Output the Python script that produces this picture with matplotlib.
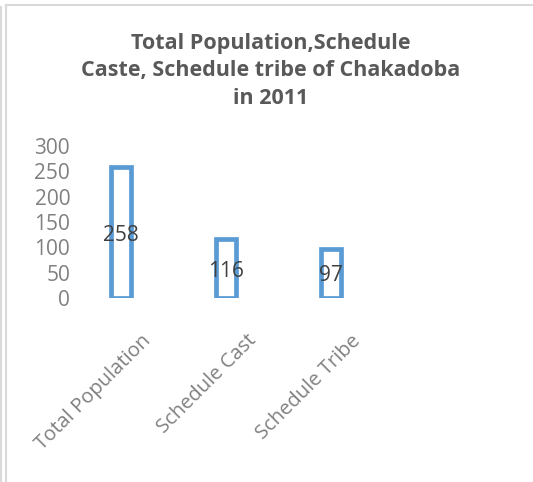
import matplotlib.pyplot as plt
import matplotlib.transforms as mtransforms
from matplotlib.lines import Line2D

# Census 2011 figures for Chakadoba
categories = ["Total Population", "Schedule Cast", "Schedule Tribe"]
counts = [258, 116, 97]
y_ticks = [0, 50, 100, 150, 200, 250, 300]

bar_edge = "#5B9BD5"
tick_grey = "#808080"

fig = plt.figure(figsize=(5.33, 4.82), dpi=100)
ax = fig.add_axes([0.129, 0.382, 0.590, 0.315])

x = range(len(categories))
bars = ax.bar(x, counts, width=0.19, color="white", edgecolor=bar_edge, linewidth=3.4)

# value labels in the middle of each bar
for i, v in enumerate(counts):
    ax.text(i, v / 2, str(v), ha="center", va="center_baseline", fontsize=15,
            color="#404040", family="Open Sans")

ax.set_xlim(-0.5, len(categories) - 0.5)
ax.set_ylim(0, 300)
ax.set_yticks(y_ticks)
ax.set_yticklabels([str(t) for t in y_ticks], fontsize=15, color=tick_grey, family="Open Sans")
ax.tick_params(axis="y", length=0, pad=-1)

ax.set_xticks(list(x))
ax.set_xticklabels(categories, fontsize=14.5, color=tick_grey, family="Open Sans",
                   rotation=45, ha="right", va="center", rotation_mode="anchor")
ax.tick_params(axis="x", length=0, pad=0)
shift = mtransforms.ScaledTranslation(27 / 100, -40 / 100, fig.dpi_scale_trans)
for lbl in ax.get_xticklabels():
    lbl.set_transform(lbl.get_transform() + shift)

for s in ax.spines.values():
    s.set_visible(False)

fig.text(0.508, 0.853, "Total Population,Schedule\nCaste, Schedule tribe of Chakadoba\nin 2011",
         ha="center", va="center", fontsize=15.5, fontweight="bold", color="#595959",
         family="Open Sans", linespacing=1.42)

# thin grey frame lines along the left and top
grey = "#D9D9D9"
fig.add_artist(Line2D([0.002, 0.002], [0, 0.985], transform=fig.transFigure, color=grey, lw=1.5))
fig.add_artist(Line2D([0.011, 0.011], [0, 0.989], transform=fig.transFigure, color=grey, lw=1.5))
fig.add_artist(Line2D([0.011, 1.0], [0.989, 0.989], transform=fig.transFigure, color=grey, lw=1.5))

fig.savefig("out.png", dpi=100)
